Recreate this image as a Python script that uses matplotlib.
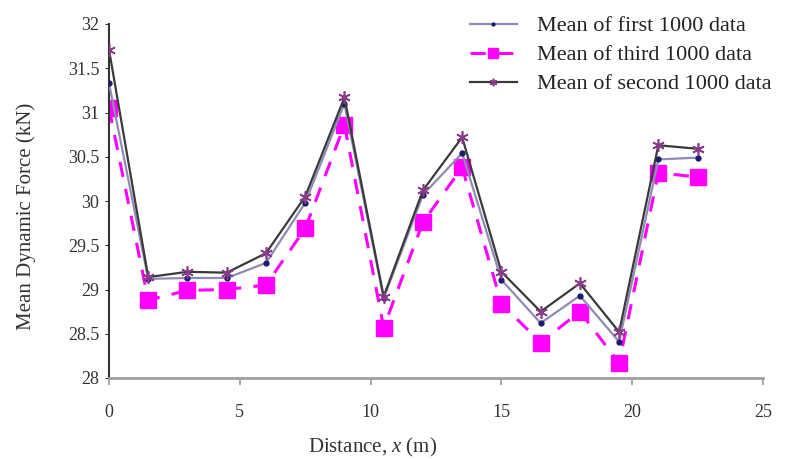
import matplotlib
matplotlib.use("Agg")
import matplotlib.pyplot as plt

distance = [0, 1.5, 3, 4.5, 6, 7.5, 9, 10.5, 12, 13.5, 15, 16.5, 18, 19.5, 21, 22.5]
mean_first = [31.33, 29.12, 29.13, 29.13, 29.30, 29.98, 31.10, 28.90, 30.07, 30.54,
              29.11, 28.62, 28.93, 28.41, 30.47, 30.49]
mean_third = [31.05, 28.88, 28.99, 29.00, 29.05, 29.69, 30.86, 28.57, 29.76, 30.38,
              28.84, 28.40, 28.75, 28.17, 30.32, 30.27]
mean_second = [31.71, 29.14, 29.20, 29.19, 29.41, 30.05, 31.17, 28.92, 30.12, 30.72,
               29.20, 28.75, 29.07, 28.52, 30.63, 30.59]
labels = ["Mean of first 1000 data", "Mean of third 1000 data", "Mean of second 1000 data"]
x_ticks = [0, 5, 10, 15, 20, 25]
y_ticks = [28, 28.5, 29, 29.5, 30, 30.5, 31, 31.5, 32]
y_tick_labels = ["28", "28.5", "29", "29.5", "30", "30.5", "31", "31.5", "32"]

plt.rcParams['font.family'] = ['Liberation Serif', 'DejaVu Serif']
plt.rcParams['mathtext.fontset'] = 'custom'
plt.rcParams['mathtext.it'] = 'Liberation Serif:italic'
plt.rcParams['mathtext.rm'] = 'Liberation Serif'

fig = plt.figure(figsize=(8.1, 4.59), dpi=100)
ax = fig.add_axes([109/810, 81/459, (763-109)/810, (378-24)/459])

l1, = ax.plot(distance, mean_first, color='#8c8cb4', lw=1.6, marker='o', ms=3.5,
              mfc='#1a1a70', mec='#1a1a70', zorder=3)
l3, = ax.plot(distance, mean_third, color='#ff00ff', lw=2.2, ls=(0, (5, 4)), marker='s', ms=11,
              mfc='#ff00ff', mec='#ff00ff', zorder=2)
l2, = ax.plot(distance, mean_second, color='#3a3a3a', lw=1.6, marker=(6, 2, 0), ms=9,
              mfc='#8a3a8a', mec='#8a3a8a', mew=1.2, zorder=4)

ax.set_xlim(0, 25)
ax.set_ylim(28, 32)
ax.set_xticks(x_ticks)
ax.set_yticks(y_ticks)
ax.set_yticklabels(y_tick_labels)
ax.tick_params(axis='both', labelsize=13, colors='#333333')
ax.tick_params(axis='x', length=5, color='#999999', width=1.2, pad=14)
ax.tick_params(axis='y', length=3, color='#333333', pad=4)

for s in ['top', 'right']:
    ax.spines[s].set_visible(False)
ax.spines['left'].set_color('#333333')
ax.spines['left'].set_linewidth(1.5)
ax.spines['bottom'].set_color('#a0a0a0')
ax.spines['bottom'].set_linewidth(2)

ax.set_xlabel("Distance, $x$ (m)", fontsize=15, color='#333333')
ax.set_ylabel("Mean Dynamic Force (kN)", fontsize=15, color='#333333')
ax.xaxis.set_label_coords((373 - 109) / 654, -(436 - 378) / 354)
ax.yaxis.set_label_coords((36 - 109) / 654, (378 - 216) / 354)

leg = fig.legend([l1, l3, l2], labels, loc='upper left', bbox_to_anchor=(461/810, 1 - 7/459),
                 frameon=False, fontsize=16, handlelength=2.1, handletextpad=0.9,
                 labelspacing=0.38, markerscale=0.6, borderaxespad=0, borderpad=0.4)
for t in leg.get_texts():
    t.set_color('#222222')

fig.savefig("out.png", dpi=100)
